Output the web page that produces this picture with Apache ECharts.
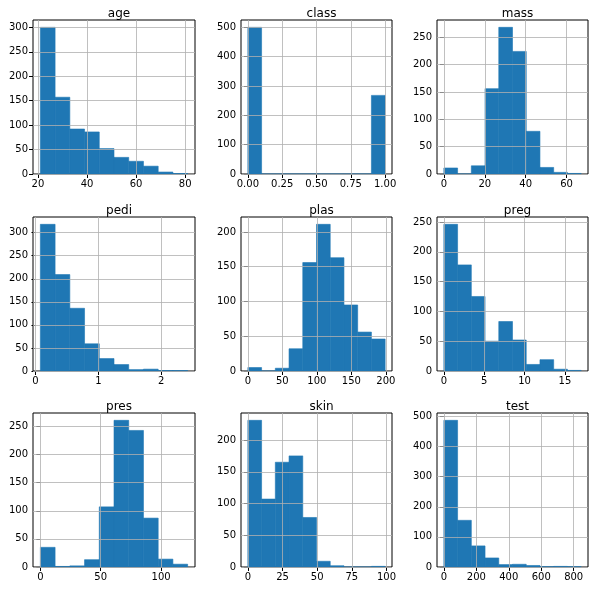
<!DOCTYPE html>
<html>
<head>
<meta charset="utf-8">
<script src="https://cdn.jsdelivr.net/npm/echarts@6/dist/echarts.min.js"></script>
<style>html,body{margin:0;padding:0;background:#fff}#chart{width:601px;height:590px}</style>
</head>
<body>
<div id="chart"></div>
<script>
// histogram data (10 bins each)
const titles = ['age', 'class', 'mass', 'pedi', 'plas', 'preg', 'pres', 'skin', 'test']
const dataMin = [21, 0, 0, 0.078, 0, 0, 0, 0, 0]
const dataMax = [81, 1, 67.1, 2.42, 199, 17, 122, 99, 846]
const ageCounts = [300, 157, 92, 86, 52, 34, 26, 16, 4, 1]
const classCounts = [500, 0, 0, 0, 0, 0, 0, 0, 0, 268]
const massCounts = [11, 0, 15, 156, 268, 224, 78, 12, 3, 1]
const pediCounts = [318, 209, 136, 59, 27, 14, 3, 4, 1, 1]
const plasCounts = [5, 0, 4, 32, 156, 211, 163, 95, 56, 46]
const pregCounts = [246, 178, 125, 50, 83, 52, 11, 19, 3, 1]
const presCounts = [35, 1, 2, 13, 107, 261, 243, 87, 14, 5]
const skinCounts = [231, 107, 165, 175, 78, 9, 2, 0, 0, 1]
const testCounts = [487, 155, 70, 30, 8, 9, 5, 1, 2, 1]
const xTicks = [
  [20, 40, 60, 80],
  [0, 0.25, 0.5, 0.75, 1],
  [0, 20, 40, 60],
  [0, 1, 2],
  [0, 50, 100, 150, 200],
  [0, 5, 10, 15],
  [0, 50, 100],
  [0, 25, 50, 75, 100],
  [0, 200, 400, 600, 800],
]
const yIntervals = [50, 100, 50, 50, 50, 50, 50, 50, 100]
const allCounts = [ageCounts, classCounts, massCounts, pediCounts, plasCounts, pregCounts, presCounts, skinCounts, testCounts]

const lefts = [33, 241, 437]
const tops = [20, 217, 413]
const gw = 151, gh = 154
const font = 'DejaVu Sans'

let chart = echarts.init(document.getElementById('chart'))
let grids = [], xAxes = [], yAxes = [], series = [], titleList = []

allCounts.forEach(function (counts, i) {
  let col = i % 3, row = Math.floor(i / 3)
  let lo = dataMin[i], hi = dataMax[i]
  let w = (hi - lo) / counts.length
  let pad = (hi - lo) * 0.05
  let yMax = Math.max.apply(null, counts) * 1.05
  let bins = counts.map(function (c, k) { return [lo + k * w, lo + (k + 1) * w, c] })
  let ticks = xTicks[i]
  let yTicks = []
  for (let v = 0; v <= yMax; v += yIntervals[i]) yTicks.push(v)
  let width = col == 0 ? 162 : gw

  grids.push({
    left: lefts[col], top: tops[row], width: width, height: gh,
    show: true, borderColor: '#000', borderWidth: 1, backgroundColor: '#fff',
  })
  titleList.push({
    text: titles[i], left: lefts[col] + width / 2, top: tops[row] - 17,
    textAlign: 'center',
    textStyle: { fontFamily: font, fontSize: 12, fontWeight: 'normal', color: '#000' },
  })
  xAxes.push({
    type: 'value', gridIndex: i, min: lo - pad, max: hi + pad,
    axisLine: { show: false },
    axisTick: { show: true, customValues: ticks, length: 4, lineStyle: { color: '#000' } },
    axisLabel: {
      customValues: ticks, color: '#000', fontFamily: font, fontSize: 10, margin: 5,
      formatter: function (v) { return i == 1 ? v.toFixed(2) : String(v) },
    },
    splitLine: { show: false },
  })
  yAxes.push({
    type: 'value', gridIndex: i, min: 0, max: yMax, interval: yIntervals[i],
    axisLine: { show: false },
    axisTick: { show: true, length: 4, lineStyle: { color: '#000' } },
    axisLabel: {
      color: '#000', fontFamily: font, fontSize: 10, margin: 5,
      showMaxLabel: Math.abs(yMax % yIntervals[i]) < 1e-9,
    },
    splitLine: { show: false },
  })
  series.push({
    type: 'custom', xAxisIndex: i, yAxisIndex: i, data: bins,
    encode: { x: [0, 1], y: 2 },
    renderItem: function (params, api) {
      let a = api.coord([api.value(0), 0])
      let b = api.coord([api.value(1), api.value(2)])
      return {
        type: 'rect',
        shape: { x: a[0], y: b[1], width: b[0] - a[0], height: a[1] - b[1] },
        style: { fill: '#1f77b4', stroke: '#1f77b4', lineWidth: 0.6 },
      }
    },
    z: 2,
  })
  // grid lines drawn over the bars, as in the picture
  let lines = ticks.map(function (v) { return { xAxis: v } })
    .concat(yTicks.map(function (v) { return { yAxis: v } }))
  series.push({
    type: 'line', xAxisIndex: i, yAxisIndex: i, data: [], z: 3, silent: true,
    markLine: {
      silent: true, symbol: 'none', label: { show: false },
      lineStyle: { color: '#b0b0b0', width: 0.8, type: 'solid' },
      data: lines, animation: false,
    },
  })
})

chart.setOption({
  animation: false,
  title: titleList,
  grid: grids,
  xAxis: xAxes,
  yAxis: yAxes,
  series: series,
})
</script>
</body>
</html>
